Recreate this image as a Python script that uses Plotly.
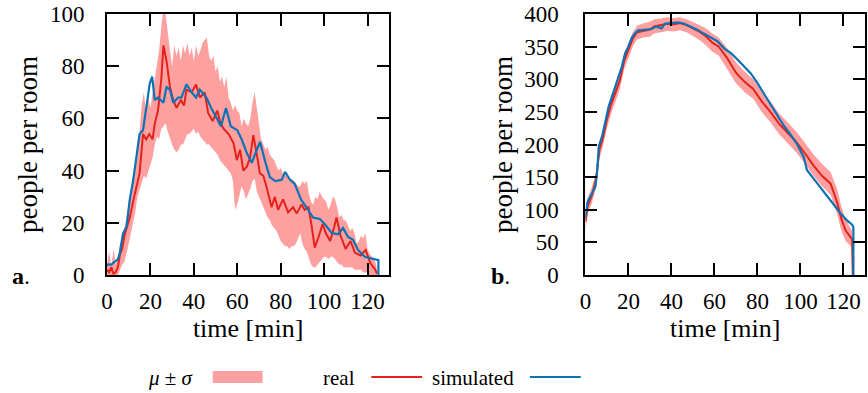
import plotly.graph_objects as go

# ---------------- left panel (a) ----------------
a_band_t = [0,1,2,3,4,5,6,7,8,9,10,11,12,13,14,15,16,17,18,19,20,21,22,23,24,25,26,27,28,29,30,
            31,32,33,34,35,36,37,38,39,40,41,42,43,44,45,46,47,48,49,50,51,52,53,54,55,56,57,58,59,60,
            61,62,63,64,65,66,67,68,69,70,71,72,73,74,75,76,77,78,79,80,81,82,83,84,85,86,87,88,89,90,
            91,92,93,94,95,96,97,98,99,100,101,102,103,104,105,106,107,108,109,110,111,112,113,114,115,
            116,117,118,119,120,121,122,123,124,124.5]
a_band_hi = [4,9,3,10,4,6,12,14,18,22,28,32,36,42,46,55,65,70,62,68,64,70,75,80,86,95,102,100,92,86,80,
             88,84,87,82,88,85,89,84,87,82,88,84,86,89,90,91,84,82,84,78,80,74,76,72,76,68,66,63,65,63,
             62,57,60,58,57,60,66,70,64,58,52,50,48,49,46,45,44,42,40,41,39,38,39,36,37,36,35,34,34,36,
             35,36,31,28,27,30,29,32,30,29,28,25,27,30,29,26,22,23,21,21,19,17,18,16,12,
             13,15,14,16,10,8,7,6,4,0]
a_band_lo = [0,0,0,0,0,0,2,4,5,8,12,16,20,24,30,33,35,38,37,40,42,45,50,53,52,56,57,58,55,52,50,
             48,47,48,50,50,52,54,54,55,56,54,55,53,52,51,50,50,49,48,47,46,44,43,42,41,40,39,36,25,27,
             30,34,32,29,31,33,36,37,32,30,28,26,24,22,21,19,18,17,15,13,12,11,11,10,11,11,12,14,16,12,
             10,9,6,4,3,3,4,5,6,7,7,6,7,7,6,5,4,4,3,3,3,3,3,2,2,
             2,2,1,1,1,0,0,0,0,0]

a_real_t = [0,1,2,3,4,5,6,7,8,9,10.5,12,13.5,15,16.6,18,19.5,21,22,23.5,25,26,27.4,29,30.5,32,34,35.5,
            36.6,39,41,42.8,45,46.6,48.7,50.8,52.3,53.8,56,58.3,59.8,61.3,62.8,64.4,65.9,67.4,68.9,70.4,
            72,73.5,75.8,77.3,78.8,81.1,83.4,85.7,87.4,89.6,91,92.8,94.3,95.7,97.2,99.3,100.8,102.8,
            104.5,105.7,107.6,109.9,112.2,114.2,116.8,119.1,121.3,123.6,124.3]
a_real_v = [2,1,3,0.5,1,3,8,10,15,18,22,28,33,39,54,52,54,52,58,63,75,88,82,72,67,64,67,65,
            71,70,73,68,70,62,59,63,58,56,54,50.5,44,48,40,41.5,45,53.6,46.7,39,
            38,33.7,26,30,25,29,24,26,23.6,27,25,26,18.5,10.5,14,19.5,16,13,
            18,22,15,10,13,8.5,7.5,9.6,4.6,2,0.5]

a_sim_t = [0,2,3.5,5,5.8,7.4,9,10.5,12,13.5,15,16.6,18,19.7,20.8,22,23.5,26,27.4,29,30.5,32.8,34.3,
           36.6,39,41,42.8,45.8,48,51,52.5,54.8,57,60,62,64.4,66.7,69,70.5,73,75,77.5,80.5,82,84.3,
           86.4,89.5,91.8,94.9,98,100.3,103.4,106.4,108.7,111,113.3,115.6,118.7,121,124,125,125]
a_sim_v = [4,4,5,6,8,16,18.5,29,36,45,54,55.5,63,73.4,76,67,68,66,72,71,66,68,68,
           73,70,68,71,68,64,59,57,64,57,55.5,52,46.7,43,48,51,43,37.5,36,36.5,39.5,36.5,
           35,28.7,26,22,21.5,19.5,16.2,15.6,18,14.6,13.5,9.6,7,6.5,5.7,5.7,0]

# ---------------- right panel (b) ----------------
b_band_t = [0,1,3,5,6.5,8,10,12,14,16,18,20,22,24,27,30,32,35,38,41,44,47,50,53,56,59,62,66,70,74,78,
            82,86,90,94,98,102,106,110,114,117,119,121,123,124]
b_band_hi = [98,118,135,160,205,220,250,275,292,310,340,357,372,382,386,388,392,393,395,394,395,392,388,
             383,378,370,364,347,326,312,300,282,266,248,234,220,203,185,170,158,132,105,85,74,68]
b_band_lo = [68,92,110,135,178,195,225,248,266,285,315,334,350,361,364,365,370,372,374,373,375,372,366,
             360,352,342,336,316,294,280,270,250,234,216,202,188,171,152,136,123,94,68,52,46,42]

b_real_t = [0,1,3,5,6.5,8,10,12,14,16,18,20,22,24,27,30,32,35,38,41,44,47,50,53,56,59,62,66,70,74,78,
            82,86,90,94,98,102,106,110,114,117,119,121,123,124,124.3]
b_real_v = [82,105,122,148,192,208,238,262,280,298,328,346,362,372,374,376,381,383,385,384,386,383,378,
            373,366,356,350,332,310,296,285,266,250,232,218,204,187,168,152,140,112,86,68,60,55,0]

b_sim_t = [0,1,3,4.6,5.4,6.2,7.7,9.2,10.8,12.3,13.8,15.4,16.9,18.5,20,21.5,23,24.6,27.7,30.8,33,35.4,
           36.9,40,43,46,49,52,55,58,61.5,64.6,67.7,70.8,73.8,76.9,80,83,86,89,92,95.4,98.5,101.5,103,
           106,109,112,115,118.5,121.5,124,124.6,124.6]
b_sim_v = [88,112,125,135,156,197,212,232,258,273,289,303,319,340,350,363,370,375,376,377,381,378,
           385,386,387,385,381,376,370,365,358,347,340,330,319,309,294,278,263,248,230,215,200,181,161,
           148,135,123,110,95,84,77,73,0]

x_ticks = [0, 20, 40, 60, 80, 100, 120]
a_y_ticks = [0, 20, 40, 60, 80, 100]
b_y_ticks = [0, 50, 100, 150, 200, 250, 300, 350, 400]

RED = "#E3231B"
BLUE = "#0A72B5"
PINK = "#FFA0A0"
FONT = "Liberation Serif"

fig = go.Figure()

for xa, ya, bt, bhi, blo, rt, rv, st, sv in [
    ("x", "y", a_band_t, a_band_hi, a_band_lo, a_real_t, a_real_v, a_sim_t, a_sim_v),
    ("x2", "y2", b_band_t, b_band_hi, b_band_lo, b_real_t, b_real_v, b_sim_t, b_sim_v),
]:
    fig.add_trace(go.Scatter(x=bt, y=blo, mode="lines", line=dict(width=0, color=PINK),
                             xaxis=xa, yaxis=ya, showlegend=False, hoverinfo="skip"))
    fig.add_trace(go.Scatter(x=bt, y=bhi, mode="lines", line=dict(width=0, color=PINK),
                             fill="tonexty", fillcolor=PINK, name="μ ± σ",
                             xaxis=xa, yaxis=ya, showlegend=False))
    fig.add_trace(go.Scatter(x=rt, y=rv, mode="lines", line=dict(width=2, color=RED),
                             name="real", xaxis=xa, yaxis=ya, showlegend=False))
    fig.add_trace(go.Scatter(x=st, y=sv, mode="lines", line=dict(width=2.2, color=BLUE),
                             name="simulated", xaxis=xa, yaxis=ya, showlegend=False))

ML, MR, MT, MB = 107, 1, 14, 118
W, H = 868, 393
PW = W - ML - MR
PH = H - MT - MB

def px(x):
    return (x - ML) / PW

def py(y):
    return (H - MB - y) / PH

axis_common = dict(showline=True, linecolor="black", linewidth=2, mirror="ticks",
                   ticks="inside", ticklen=12, tickwidth=2, tickcolor="black",
                   showgrid=False, zeroline=False,
                   tickfont=dict(family=FONT, size=23, color="black"))

fig.update_layout(
    width=W, height=H,
    margin=dict(l=ML, r=MR, t=MT, b=MB, pad=0),
    plot_bgcolor="white", paper_bgcolor="white",
    font=dict(family=FONT, color="black"),
    showlegend=False,
    xaxis=dict(domain=[0, px(390)], range=[0, 130], tickvals=x_ticks, anchor="y",
               ticklabelstandoff=4,
               title=dict(text="time [min]", standoff=6, font=dict(family=FONT, size=26, color="black")),
               **axis_common),
    yaxis=dict(domain=[0, 1], range=[0, 100], tickvals=a_y_ticks, anchor="x",
               ticklabelstandoff=16,
               title=dict(text="people per room", standoff=4, font=dict(family=FONT, size=27, color="black")),
               **axis_common),
    xaxis2=dict(domain=[px(586.7), 1], range=[0, 130], tickvals=x_ticks, anchor="y2",
                ticklabelstandoff=4,
                title=dict(text="time [min]", standoff=6, font=dict(family=FONT, size=26, color="black")),
                **axis_common),
    yaxis2=dict(domain=[0, 1], range=[0, 400], tickvals=b_y_ticks, anchor="x2",
                ticklabelstandoff=20,
                title=dict(text="people per room", standoff=4, font=dict(family=FONT, size=27, color="black")),
                **axis_common),
)

lab_font = dict(family=FONT, size=24, color="black")
leg_font = dict(family=FONT, size=21, color="black")
annotations = [
    dict(text="<b>a</b>.", x=px(10), y=py(276), xanchor="left", yanchor="middle", font=lab_font),
    dict(text="<b>b</b>.", x=px(490), y=py(276), xanchor="left", yanchor="middle", font=lab_font),
    dict(text="<i>μ</i> ± <i>σ</i>", x=px(171), y=py(378), xanchor="center", yanchor="middle", font=leg_font),
    dict(text="real", x=px(339.5), y=py(378), xanchor="center", yanchor="middle", font=leg_font),
    dict(text="simulated", x=px(473.5), y=py(378), xanchor="center", yanchor="middle", font=leg_font),
]
for a in annotations:
    a.update(xref="paper", yref="paper", showarrow=False)
fig.update_layout(annotations=annotations)

shapes = [
    dict(type="rect", x0=px(213), x1=px(263), y0=py(371), y1=py(383),
         fillcolor=PINK, line=dict(width=0)),
    dict(type="line", x0=px(372), x1=px(423), y0=py(377), y1=py(377),
         line=dict(color=RED, width=2)),
    dict(type="line", x0=px(531), x1=px(582), y0=py(377), y1=py(377),
         line=dict(color=BLUE, width=2)),
]
for s in shapes:
    s.update(xref="paper", yref="paper")
fig.update_layout(shapes=shapes)

fig.write_html("out.html")
